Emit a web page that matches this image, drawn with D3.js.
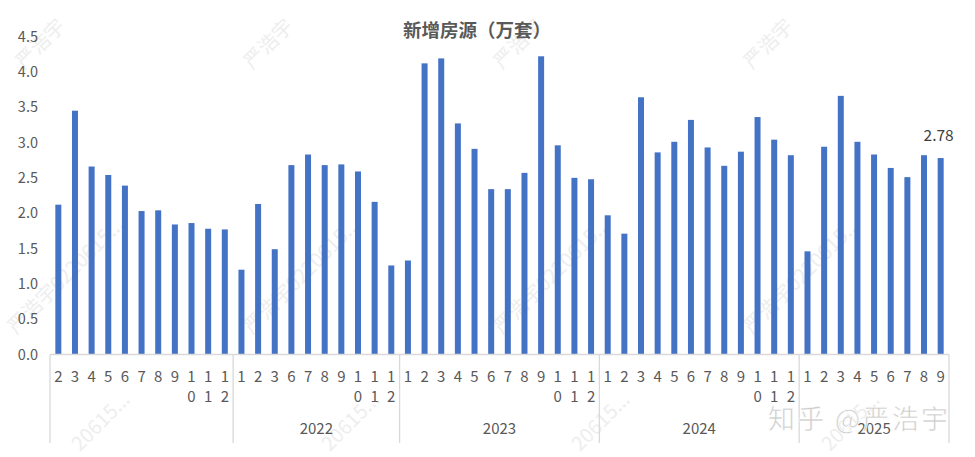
<!DOCTYPE html>
<html>
<head>
<meta charset="utf-8">
<script src="https://cdn.jsdelivr.net/npm/d3@7"></script>
<style>
  html, body { margin: 0; padding: 0; background: #fff; }
  svg { display: block; font-family: "Noto Sans CJK SC", "Noto Sans", sans-serif; }
</style>
</head>
<body>
<svg id="chart" width="975" height="457"></svg>
<script>
// ---- data ----
const title = "新增房源（万套）";
const groupLabels = ["", "2022", "2023", "2024", "2025"];
const groupMonths = [
  [2, 3, 4, 5, 6, 7, 8, 9, 10, 11, 12],
  [1, 2, 3, 6, 7, 8, 9, 10, 11, 12],
  [1, 2, 3, 4, 5, 6, 7, 8, 9, 10, 11, 12],
  [1, 2, 3, 4, 5, 6, 7, 8, 9, 10, 11, 12],
  [1, 2, 3, 4, 5, 6, 7, 8, 9]
];
const values2021 = [2.12, 3.45, 2.66, 2.54, 2.39, 2.03, 2.04, 1.84, 1.86, 1.78, 1.77];
const values2022 = [1.20, 2.13, 1.49, 2.68, 2.83, 2.68, 2.69, 2.59, 2.16, 1.26];
const values2023 = [1.33, 4.12, 4.19, 3.27, 2.91, 2.34, 2.34, 2.57, 4.22, 2.96, 2.50, 2.48];
const values2024 = [1.97, 1.71, 3.64, 2.86, 3.01, 3.32, 2.93, 2.67, 2.87, 3.36, 3.04, 2.82];
const values2025 = [1.46, 2.94, 3.66, 3.01, 2.83, 2.64, 2.51, 2.82, 2.78];
const groupValues = [values2021, values2022, values2023, values2024, values2025];
const yTicks = [0, 0.5, 1, 1.5, 2, 2.5, 3, 3.5, 4, 4.5];
const lastLabel = "2.78";
const watermark = "知乎 @严浩宇";
const tileText = "严浩宇0220615...";
const tileTop = "严浩宇";
const tileBottom = "20615...";

(function () {
// ---- build flat table ----
const rows = [];
groupMonths.forEach((ms, g) => ms.forEach((m, i) => rows.push({
  id: g + "-" + m, group: g, month: m, value: groupValues[g][i]
})));

const svg = d3.select("#chart");
const pL = 50, pR = 949, pBase = 354.5, pTop = 36.5;

// faint background watermark tiles
const tiles = svg.append("g").attr("fill", "#eeeeee").attr("font-size", 20);
const addTile = (tx, ty, t) => tiles.append("text")
  .attr("transform", `translate(${tx},${ty}) rotate(-45)`).text(t);
[24, 252, 502, 752].forEach(tx => addTile(tx, 70, tileTop));
[16, 252, 502, 752].forEach(tx => addTile(tx, 335, tileText));
[80, 330, 580, 830].forEach(tx => addTile(tx, 452, tileBottom));

const x = d3.scaleBand()
  .domain(rows.map(d => d.id))
  .range([pL, pR])
  .paddingInner(0.64)
  .paddingOuter(0.32);

const y = d3.scaleLinear().domain([0, 4.5]).range([pBase, pTop]);

// y axis labels
const yAxis = d3.axisLeft(y).tickValues(yTicks).tickFormat(d3.format(".1f")).tickSize(0).tickPadding(12);
const ya = svg.append("g").attr("transform", `translate(${pL},0)`).call(yAxis);
ya.select(".domain").remove();
ya.selectAll("text").attr("fill", "#595959").attr("font-size", 14.5).attr("font-family", "'Noto Sans CJK SC'");

// bars
svg.append("g").selectAll("rect").data(rows).join("rect")
  .attr("x", d => x(d.id))
  .attr("width", x.bandwidth())
  .attr("y", d => y(d.value))
  .attr("height", d => y(0) - y(d.value))
  .attr("fill", "#4472C4");

// x axis line
svg.append("line").attr("x1", pL).attr("x2", pR).attr("y1", pBase).attr("y2", pBase)
  .attr("stroke", "#d9d9d9").attr("stroke-width", 1.3);

// month labels (two-digit months stacked)
const ml = svg.append("g").attr("fill", "#595959").attr("font-size", 15).attr("text-anchor", "middle");
rows.forEach(d => {
  const cx = x(d.id) + x.bandwidth() / 2;
  String(d.month).split("").forEach((ch, k) => {
    ml.append("text").attr("x", cx).attr("y", 382 + k * 20).text(ch);
  });
});

// group dividers and year labels
const bounds = [];
let idx = 0;
groupMonths.forEach((ms, g) => {
  const first = rows[idx].id, last = rows[idx + ms.length - 1].id;
  const x0 = g === 0 ? pL : x(first) - x.step() * x.paddingInner() / 2;
  const x1 = x(last) + x.bandwidth() + x.step() * x.paddingInner() / 2;
  bounds.push([x0, x1]);
  idx += ms.length;
});
const dividerXs = [bounds[0][0]].concat(bounds.map(b => b[1]));
dividerXs[dividerXs.length - 1] = pR;
svg.append("g").selectAll("line").data(dividerXs).join("line")
  .attr("x1", d => d).attr("x2", d => d).attr("y1", pBase).attr("y2", 443)
  .attr("stroke", "#d9d9d9").attr("stroke-width", 1.3);

svg.append("g").selectAll("text").data(groupLabels).join("text")
  .attr("x", (d, i) => (bounds[i][0] + bounds[i][1]) / 2)
  .attr("y", 434)
  .attr("text-anchor", "middle")
  .attr("fill", "#595959").attr("font-size", 15)
  .text(d => d);

// data label on last bar
const lastRow = rows[rows.length - 1];
svg.append("text")
  .attr("x", x(lastRow.id) + x.bandwidth() / 2 - 2)
  .attr("y", y(lastRow.value) - 17)
  .attr("text-anchor", "middle")
  .attr("fill", "#404040").attr("font-size", 15.5)
  .text(lastLabel);

// title
svg.append("text").attr("x", 477).attr("y", 37).attr("text-anchor", "middle")
  .attr("fill", "#595959").attr("font-size", 18.5).attr("font-weight", "bold")
  .text(title);

// zhihu watermark
svg.append("text").attr("x", 768).attr("y", 429)
  .attr("fill", "#c4c4c4").attr("fill-opacity", 0.85)
  .attr("stroke", "#ffffff").attr("stroke-width", 0.6)
  .attr("font-size", 27)
  .attr("textLength", 180).attr("lengthAdjust", "spacing")
  .text(watermark);
})();
</script>
</body>
</html>
